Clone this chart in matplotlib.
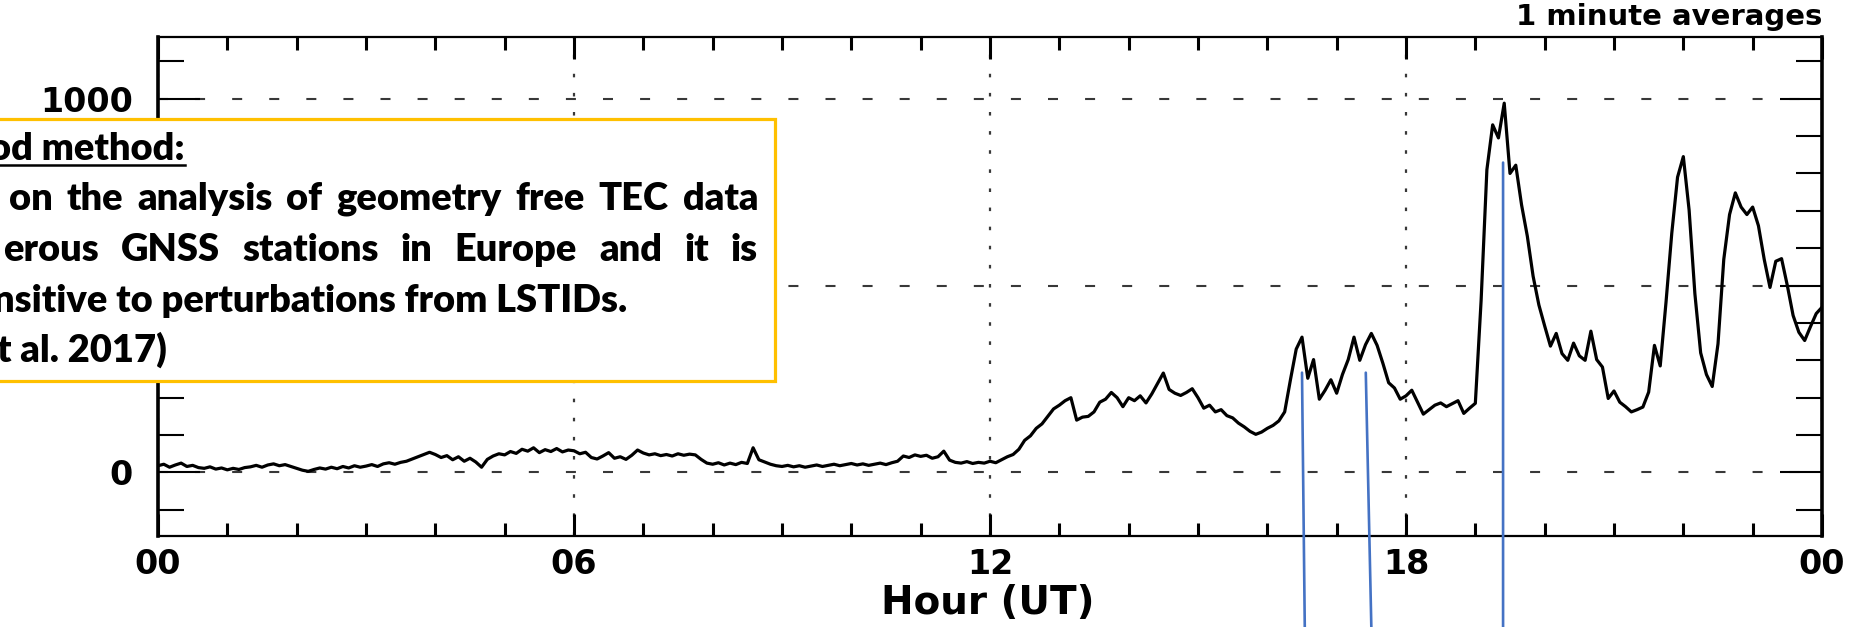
import numpy as np
import matplotlib
matplotlib.use("Agg")
import matplotlib.pyplot as plt
from matplotlib.patches import Rectangle, ConnectionPatch
from matplotlib.lines import Line2D
from matplotlib.transforms import blended_transform_factory
from matplotlib.ticker import MultipleLocator

W, H, DPI = 1860, 627, 100

# ---- data: 5-minute samples of the 1-minute index, 00 UT .. 24 UT ----
values_00_06 = [
    18, 22, 14, 20, 25, 16, 19, 13, 11, 15, 9, 12,
    7, 11, 8, 13, 15, 19, 14, 20, 23, 18, 21, 16,
    11, 6, 3, 8, 12, 9, 14, 10, 16, 12, 18, 14,
    17, 21, 16, 23, 26, 22, 27, 30, 36, 42, 48, 54,
    48, 40, 45, 34, 42, 30, 38, 28, 14, 35, 44, 50,
    47, 56, 51, 62, 57, 66, 53, 61, 56, 64, 55, 60,
]
values_06_12 = [
    58, 50, 54, 40, 36, 44, 53, 38, 42, 35, 46, 60,
    52, 47, 50, 45, 48, 44, 50, 46, 49, 47, 35, 25,
    22, 26, 20, 25, 21, 27, 24, 66, 34, 28, 22, 18,
    16, 19, 15, 18, 14, 17, 20, 16, 19, 22, 18, 21,
    24, 20, 23, 19, 22, 25, 21, 26, 30, 44, 40, 47,
    43, 46, 38, 42, 57, 33, 27, 25, 29, 24, 27, 25,
]
values_12_18 = [
    30, 26, 34, 42, 48, 62, 86, 98, 118, 130, 150, 170,
    180, 192, 200, 140, 148, 150, 162, 188, 196, 214, 200, 176,
    200, 192, 205, 186, 210, 238, 266, 222, 212, 206, 214, 224,
    200, 172, 180, 162, 168, 152, 146, 132, 122, 110, 102, 108,
    118, 126, 138, 162, 248, 330, 362, 252, 302, 196, 220, 248,
    212, 262, 302, 362, 300, 342, 372, 340, 292, 240, 226, 196,
]
values_18_24 = [
    205, 220, 188, 156, 168, 180, 186, 176, 184, 192, 158, 172,
    185, 460, 810, 930, 895, 988, 800, 822, 716, 632, 525, 448,
    392, 338, 372, 318, 300, 346, 312, 300, 378, 302, 282, 198,
    218, 188, 176, 162, 168, 175, 215, 340, 285, 455, 640, 790,
    845, 702, 478, 320, 262, 230, 344, 570, 690, 748, 710, 690,
    710, 660, 570, 495, 565, 572, 500, 420, 375, 353, 390, 425,
]
value_at_24 = [442]

hour_ticks = [0, 6, 12, 18, 24]
hour_labels = ["00", "06", "12", "18", "00"]
value_ticks = [0, 500, 1000]
value_labels = ["0", "", "1000"]

# blue pointers: start on the curve (hour, value), end at the lower page edge (hour)
pointer_hours = [16.50, 17.42, 19.40]
pointer_values = [267, 267, 829]
pointer_foot_hours = [16.54, 17.50, 19.40]

box_lines = [
    "od method:",
    "on the analysis of geometry free TEC data",
    "erous GNSS stations in Europe and it is",
    "nsitive to perturbations from LSTIDs.",
    "t al. 2017)",
]

values = values_00_06 + values_06_12 + values_12_18 + values_18_24 + value_at_24
hours = np.arange(len(values)) * 5 / 60.0

# ---- figure and axes ----
fig = plt.figure(figsize=(W / DPI, H / DPI), dpi=DPI)
ax = fig.add_axes([158 / W, 1 - 536 / H, (1822 - 158) / W, (536 - 37) / H])

ax.plot(hours, values, color="black", lw=2.3, zorder=3)
ax.set_xlim(0, 24)
ax.set_ylim(-170, 1165)

ax.set_xticks(hour_ticks, hour_labels)
ax.xaxis.set_minor_locator(MultipleLocator(1))
ax.set_yticks(value_ticks, value_labels)
ax.yaxis.set_minor_locator(MultipleLocator(100))

ax.tick_params(axis="x", which="major", direction="in", length=16, width=2.2,
               top=True, bottom=True, pad=9, labelsize=24)
ax.tick_params(axis="x", which="minor", direction="in", length=9.5, width=2.2,
               top=True, bottom=True)
ax.tick_params(axis="y", which="major", direction="in", length=30, width=1.5,
               left=True, right=True, pad=18, labelsize=24)
ax.tick_params(axis="y", which="minor", direction="in", length=19, width=1.5,
               left=True, right=True)
for lab in ax.get_xticklabels() + ax.get_yticklabels():
    lab.set_fontweight("bold")

ax.xaxis.grid(True, which="major", color="#383838", lw=1.6,
              linestyle=(0, (1.6, 7.0)))
ax.yaxis.grid(True, which="major", color="#383838", lw=1.5,
              linestyle=(0, (4.8, 13.0)))

for side in ("left", "right"):
    ax.spines[side].set_linewidth(2.6)
for side in ("top", "bottom"):
    ax.spines[side].set_linewidth(1.6)

fig.text(988 / W, 1 - 614 / H, "Hour (UT)", ha="center", va="baseline",
         fontsize=28, fontweight="bold")
fig.text(1822 / W, 1 - 25 / H, "1 minute averages", ha="right", va="baseline",
         fontsize=21, fontweight="bold")

# ---- pointers ----
foot = blended_transform_factory(ax.transData, fig.transFigure)
for h, v, hf in zip(pointer_hours, pointer_values, pointer_foot_hours):
    con = ConnectionPatch(xyA=(h, v), coordsA=ax.transData,
                          xyB=(hf, 0.0), coordsB=foot,
                          color="#4472C4", lw=1.9, zorder=7)
    fig.add_artist(con)

# ---- note box ----
fig.add_artist(Rectangle((-20 / W, 1 - 381 / H), 795 / W, 262 / H,
                         transform=fig.transFigure, facecolor="white",
                         edgecolor="#FFC000", lw=2.3, zorder=5))

renderer = fig.canvas.get_renderer()
box_font = ["Lato", "DejaVu Sans"]
box_weight = "heavy"


def put(s, x, base, size, ha="left"):
    return fig.text(x / W, 1 - base / H, s, ha=ha, va="baseline",
                    fontsize=size, fontweight=box_weight, family=box_font,
                    zorder=6)


# size the note text so the unjustified line spans its width
probe = put(box_lines[3], 0, 300, 25)
fs = 25 * 636 / probe.get_window_extent(renderer).width
probe.remove()


def justify(line, left, right, base):
    words = line.split()
    arts = [put(w, 0, base, fs) for w in words]
    widths = [a.get_window_extent(renderer).width for a in arts]
    gap = (right - left - sum(widths)) / (len(words) - 1)
    x = left
    for a, w in zip(arts, widths):
        a.set_x(x / W)
        x += w + gap


head = put(box_lines[0], 185, 160, fs, ha="right")
x0 = head.get_window_extent(renderer).x0
fig.add_artist(Line2D([x0 / W, 185 / W], [1 - 165.5 / H] * 2,
                      transform=fig.transFigure, color="black", lw=1.8,
                      zorder=6))
justify(box_lines[1], 9, 758, 210.5)
justify(box_lines[2], 3, 758, 261)
put(box_lines[3], 627, 311.5, fs, ha="right")
put(box_lines[4], 167, 362, fs, ha="right")

fig.savefig("out.png", dpi=DPI)
